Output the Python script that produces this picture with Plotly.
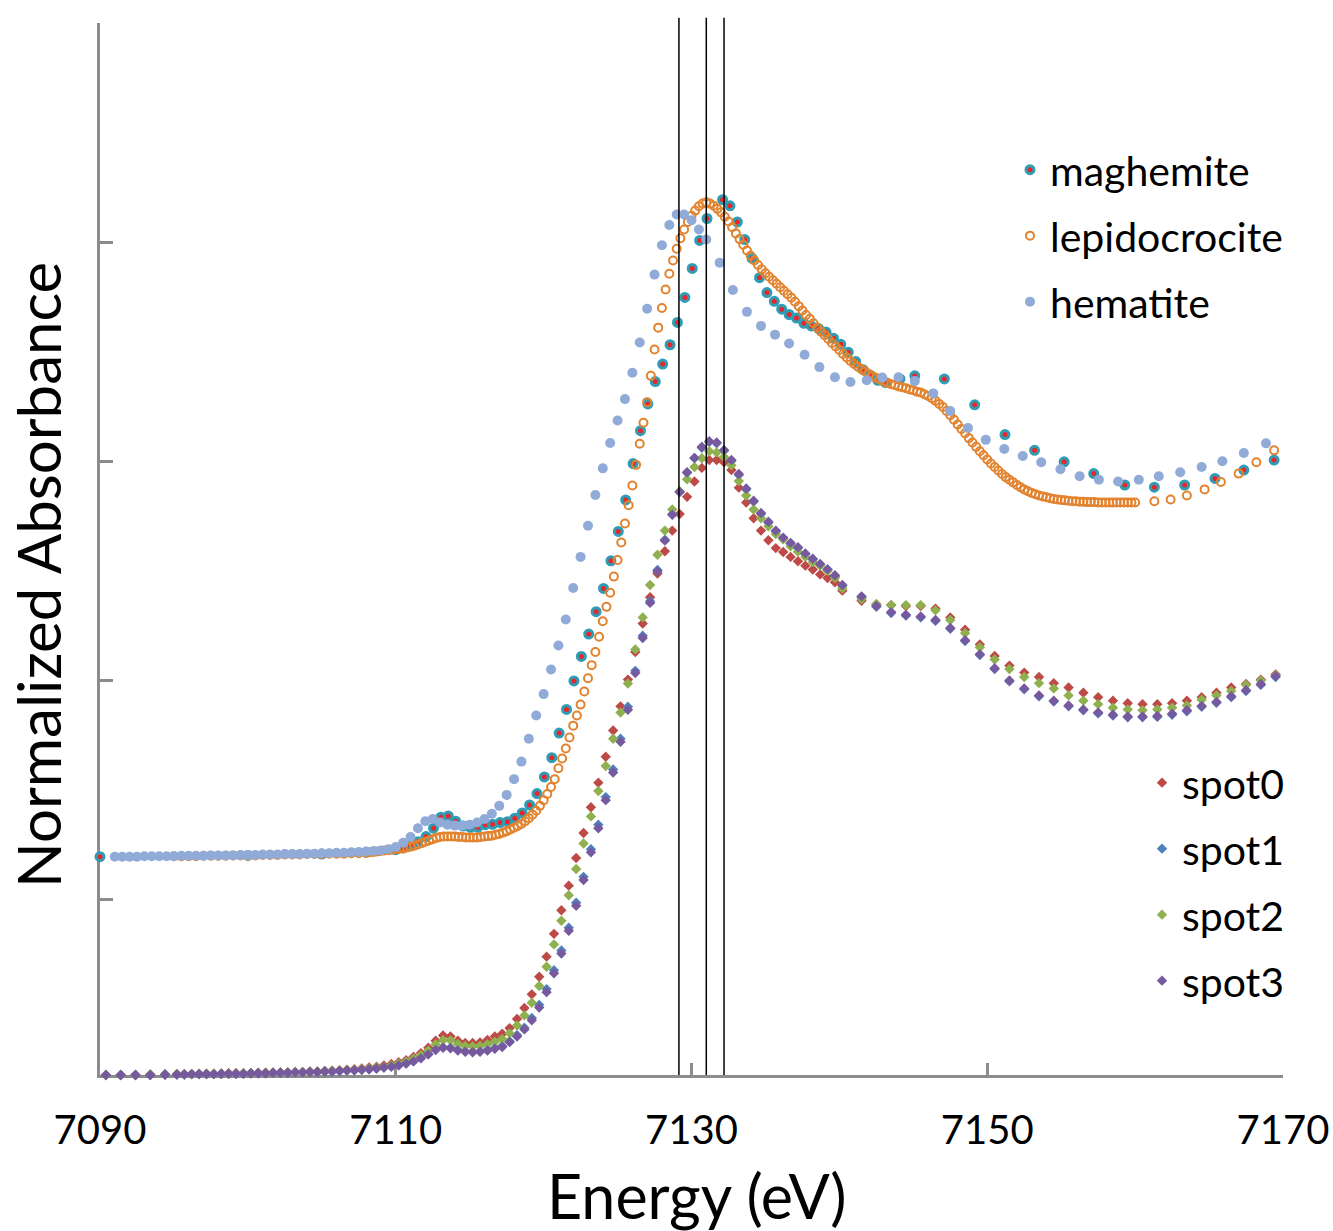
import numpy as np
import plotly.graph_objects as go

# ---------------- data ----------------
# energy grid of the spot spectra (eV)
spot_energy = (list(np.round(np.arange(7090.4, 7094.5, 1.0), 2))
               + list(np.round(np.arange(7095.2, 7140.25, 0.5), 2))
               + list(np.round(np.arange(7141.5, 7169.6, 1.0), 2)))

spot0 = [0.000, 0.000, 0.000, 0.001, 0.001,
         0.002, 0.002, 0.002, 0.003, 0.003, 0.003, 0.003, 0.004, 0.004, 0.004,
         0.004, 0.005, 0.005, 0.005, 0.006, 0.006, 0.007, 0.007, 0.008, 0.008,
         0.009, 0.010, 0.011, 0.012, 0.013, 0.015, 0.017, 0.019, 0.022, 0.025,
         0.029, 0.034, 0.041, 0.050, 0.062, 0.078, 0.090, 0.088, 0.078, 0.073,
         0.073, 0.074, 0.080, 0.088, 0.094, 0.107, 0.128, 0.153, 0.184, 0.224,
         0.270, 0.322, 0.376, 0.432, 0.495, 0.552, 0.611, 0.667, 0.726, 0.786,
         0.841, 0.902, 0.965, 1.030, 1.090, 1.144, 1.195, 1.242, 1.280, 1.319,
         1.354, 1.385, 1.403, 1.403, 1.398, 1.380, 1.340, 1.306, 1.270, 1.242,
         1.220, 1.202, 1.193, 1.182, 1.172, 1.162, 1.153, 1.142, 1.134, 1.124,
         1.105,
         1.082, 1.074, 1.072, 1.070, 1.070, 1.064, 1.044, 1.016, 0.982, 0.956,
         0.934, 0.918, 0.908, 0.894, 0.884, 0.872, 0.862, 0.854, 0.848, 0.846,
         0.846, 0.848, 0.854, 0.862, 0.872, 0.884, 0.892, 0.902, 0.914]

spot1 = [0.000, 0.000, 0.000, 0.000, 0.001,
         0.001, 0.001, 0.002, 0.002, 0.002, 0.002, 0.003, 0.003, 0.003, 0.003,
         0.004, 0.004, 0.004, 0.005, 0.005, 0.005, 0.006, 0.006, 0.007, 0.007,
         0.008, 0.008, 0.009, 0.010, 0.011, 0.012, 0.013, 0.015, 0.017, 0.019,
         0.022, 0.026, 0.032, 0.039, 0.048, 0.058, 0.063, 0.062, 0.057, 0.054,
         0.053, 0.054, 0.057, 0.061, 0.066, 0.077, 0.091, 0.108, 0.130, 0.160,
         0.196, 0.239, 0.284, 0.336, 0.393, 0.452, 0.515, 0.571, 0.634, 0.697,
         0.767, 0.840, 0.922, 1.002, 1.081, 1.152, 1.221, 1.279, 1.330, 1.374,
         1.407, 1.431, 1.444, 1.441, 1.424, 1.401, 1.369, 1.336, 1.308, 1.280,
         1.260, 1.240, 1.224, 1.212, 1.202, 1.188, 1.176, 1.164, 1.152, 1.138,
         1.116,
         1.090, 1.068, 1.054, 1.048, 1.044, 1.036, 1.018, 0.990, 0.958, 0.926,
         0.898, 0.880, 0.864, 0.852, 0.841, 0.832, 0.825, 0.820, 0.816, 0.816,
         0.817, 0.822, 0.830, 0.840, 0.849, 0.862, 0.876, 0.890, 0.908]

spot2 = [0.000, 0.000, 0.000, 0.001, 0.001,
         0.002, 0.002, 0.002, 0.002, 0.003, 0.003, 0.003, 0.003, 0.004, 0.004,
         0.004, 0.004, 0.005, 0.005, 0.005, 0.006, 0.006, 0.007, 0.007, 0.008,
         0.008, 0.009, 0.010, 0.011, 0.012, 0.013, 0.015, 0.017, 0.019, 0.022,
         0.026, 0.031, 0.037, 0.045, 0.056, 0.070, 0.080, 0.079, 0.071, 0.066,
         0.065, 0.066, 0.070, 0.076, 0.082, 0.095, 0.113, 0.136, 0.165, 0.203,
         0.247, 0.298, 0.352, 0.410, 0.470, 0.528, 0.590, 0.648, 0.705, 0.767,
         0.827, 0.893, 0.971, 1.044, 1.118, 1.187, 1.242, 1.290, 1.332, 1.359,
         1.387, 1.407, 1.423, 1.420, 1.410, 1.391, 1.355, 1.322, 1.290, 1.270,
         1.252, 1.234, 1.222, 1.206, 1.194, 1.182, 1.170, 1.162, 1.150, 1.134,
         1.110,
         1.086, 1.074, 1.072, 1.072, 1.072, 1.060, 1.038, 1.008, 0.976, 0.948,
         0.926, 0.908, 0.894, 0.882, 0.866, 0.854, 0.846, 0.838, 0.834, 0.832,
         0.834, 0.838, 0.843, 0.856, 0.866, 0.876, 0.890, 0.900, 0.912]

spot3 = [0.000, 0.000, 0.000, 0.000, 0.001,
         0.001, 0.001, 0.002, 0.002, 0.002, 0.002, 0.003, 0.003, 0.003, 0.003,
         0.004, 0.004, 0.004, 0.005, 0.005, 0.005, 0.006, 0.006, 0.007, 0.007,
         0.008, 0.008, 0.009, 0.010, 0.011, 0.012, 0.013, 0.015, 0.017, 0.019,
         0.022, 0.026, 0.031, 0.038, 0.047, 0.057, 0.062, 0.061, 0.056, 0.053,
         0.052, 0.053, 0.056, 0.060, 0.064, 0.075, 0.088, 0.104, 0.125, 0.154,
         0.189, 0.232, 0.277, 0.329, 0.386, 0.445, 0.508, 0.563, 0.627, 0.690,
         0.760, 0.833, 0.917, 0.997, 1.077, 1.149, 1.219, 1.278, 1.330, 1.375,
         1.408, 1.433, 1.446, 1.443, 1.426, 1.403, 1.371, 1.338, 1.310, 1.282,
         1.262, 1.242, 1.226, 1.214, 1.204, 1.190, 1.178, 1.166, 1.154, 1.140,
         1.118,
         1.092, 1.070, 1.056, 1.050, 1.046, 1.038, 1.020, 0.992, 0.960, 0.928,
         0.900, 0.882, 0.866, 0.854, 0.843, 0.834, 0.827, 0.822, 0.818, 0.818,
         0.819, 0.824, 0.832, 0.842, 0.851, 0.864, 0.878, 0.892, 0.910]

# maghemite reference (offset +0.5)
maghemite_energy = ([7090.0, 7100.0, 7105.0, 7108.0, 7110.0, 7110.5, 7111.0, 7111.5, 7112.05]
                    + list(np.round(np.arange(7112.55, 7131.1, 0.5), 2))
                    + list(np.round(np.arange(7132.1, 7143.15, 0.5), 2))
                    + [7144.1, 7145.1, 7147.1, 7149.15, 7151.2, 7153.2, 7155.2, 7157.2,
                       7159.3, 7161.3, 7163.35, 7165.4, 7167.35, 7169.4])
maghemite = [0.498, 0.501, 0.504, 0.508, 0.514, 0.518, 0.524, 0.532, 0.544,
             0.563, 0.588, 0.591, 0.579, 0.568, 0.565, 0.565, 0.571, 0.572, 0.576,
             0.578, 0.586, 0.598, 0.616, 0.642, 0.680, 0.724, 0.780, 0.834, 0.899,
             0.955, 1.006, 1.057, 1.110, 1.173, 1.240, 1.312, 1.395, 1.470, 1.531,
             1.582, 1.622, 1.666, 1.717, 1.774, 1.840, 1.904, 1.954,
             1.997, 1.983, 1.946, 1.906, 1.863, 1.819, 1.785, 1.765, 1.747, 1.735,
             1.727, 1.715, 1.709, 1.703, 1.695, 1.681, 1.667, 1.649, 1.628, 1.609,
             1.596, 1.585, 1.580,
             1.588, 1.595, 1.588, 1.529, 1.461, 1.425, 1.399, 1.372,
             1.346, 1.341, 1.346, 1.361, 1.380, 1.403]

# lepidocrocite reference (offset +0.5)
lepido_energy = (list(np.round(np.arange(7095.0, 7107.6, 0.5), 2))
                 + list(np.round(np.arange(7108.0, 7160.01, 0.25), 2))
                 + [7161.3, 7162.4, 7163.5, 7164.7, 7165.8, 7167.0, 7168.2, 7169.4])
lepidocrocite = [
    0.499, 0.499, 0.499, 0.499, 0.500, 0.500, 0.500, 0.500, 0.501, 0.501,
    0.501, 0.501, 0.502, 0.502, 0.502, 0.503, 0.503, 0.503, 0.504, 0.504,
    0.504, 0.505, 0.505, 0.505, 0.506, 0.506,
    # 7108.00 - 7119.00
    0.507, 0.508, 0.509, 0.510, 0.511, 0.512, 0.513, 0.514, 0.515, 0.516,
    0.517, 0.519, 0.521, 0.523, 0.526, 0.529, 0.532, 0.535, 0.538, 0.541,
    0.543, 0.544, 0.544, 0.544, 0.544, 0.543, 0.543, 0.542, 0.542, 0.542,
    0.542, 0.543, 0.544, 0.545, 0.546, 0.548, 0.550, 0.553, 0.556, 0.560,
    0.564, 0.568, 0.573, 0.579, 0.586,
    # 7119.25 - 7131.00
    0.594, 0.603, 0.614, 0.627, 0.641, 0.657, 0.675, 0.700, 0.722, 0.745,
    0.770, 0.797, 0.820, 0.845, 0.875, 0.905, 0.935, 0.965, 1.000, 1.035,
    1.068, 1.100, 1.137, 1.175, 1.215, 1.258, 1.300, 1.345, 1.392, 1.440,
    1.488, 1.535, 1.595, 1.655, 1.705, 1.750, 1.792, 1.828, 1.858, 1.885,
    1.909, 1.929, 1.946, 1.960, 1.972, 1.982, 1.988, 1.991,
    # 7131.25 - 7160.00
    1.988, 1.983, 1.976, 1.968, 1.958, 1.947, 1.934, 1.920, 1.907, 1.894,
    1.881, 1.869, 1.858, 1.848, 1.838, 1.829, 1.821, 1.813, 1.805, 1.797,
    1.789, 1.781, 1.773, 1.764, 1.754, 1.744, 1.734, 1.725, 1.715, 1.705,
    1.696, 1.688, 1.679, 1.670, 1.662, 1.654, 1.645, 1.637, 1.629, 1.622,
    1.616, 1.610, 1.605, 1.599, 1.594, 1.590, 1.586, 1.582, 1.579, 1.576,
    1.574, 1.571, 1.569, 1.567, 1.564, 1.562, 1.559, 1.557, 1.553, 1.549,
    1.544, 1.538, 1.531, 1.524, 1.515, 1.505, 1.495, 1.484, 1.474, 1.464,
    1.453, 1.443, 1.433, 1.423, 1.414, 1.404, 1.395, 1.387, 1.379, 1.371,
    1.364, 1.358, 1.352, 1.346, 1.341, 1.336, 1.332, 1.328, 1.325, 1.322,
    1.320, 1.318, 1.316, 1.314, 1.313, 1.312, 1.311, 1.310, 1.309, 1.309,
    1.308, 1.308, 1.307, 1.307, 1.307, 1.306, 1.306, 1.306, 1.306, 1.306,
    1.306, 1.306, 1.306, 1.306, 1.306, 1.306,
    # sparse tail
    1.309, 1.313, 1.322, 1.336, 1.353, 1.372, 1.398, 1.425]

# hematite reference (offset +0.5)
hematite_energy = (list(np.round(np.arange(7091.0, 7131.01, 0.5), 2))
                   + [7131.9, 7132.8, 7133.75, 7134.7, 7135.65, 7136.6, 7137.65, 7138.65,
                      7139.7, 7140.75, 7141.85, 7142.9, 7144.0, 7145.1, 7146.35, 7147.5,
                      7148.7, 7149.9, 7151.15, 7152.4, 7153.65, 7154.95, 7156.25, 7157.55,
                      7158.85, 7160.25, 7161.6, 7163.05, 7164.5, 7165.9, 7167.35, 7168.85])
hematite = [0.498, 0.498, 0.498, 0.498, 0.499, 0.499, 0.499, 0.499, 0.499, 0.500,
            0.500, 0.500, 0.500, 0.501, 0.501, 0.501, 0.501, 0.502, 0.502, 0.502,
            0.503, 0.503, 0.503, 0.504, 0.504, 0.504, 0.505, 0.505, 0.506, 0.506,
            0.507, 0.507, 0.508, 0.509, 0.510, 0.511, 0.512,
            0.515, 0.520, 0.530, 0.543, 0.563, 0.579, 0.584, 0.576, 0.571, 0.569,
            0.569, 0.571, 0.576, 0.584, 0.596, 0.614, 0.639, 0.675, 0.715, 0.767,
            0.820, 0.869, 0.925, 0.980, 1.039, 1.111, 1.182, 1.253, 1.323, 1.384,
            1.442, 1.493, 1.542, 1.602, 1.671, 1.748, 1.826, 1.893, 1.939, 1.963,
            1.963, 1.950, 1.929, 1.906,
            1.853, 1.791, 1.741, 1.709, 1.689, 1.669, 1.643, 1.615,
            1.592, 1.581, 1.585, 1.591, 1.592, 1.583, 1.555, 1.515,
            1.476, 1.449, 1.428, 1.412, 1.398, 1.382, 1.366, 1.358,
            1.354, 1.358, 1.366, 1.375, 1.387, 1.400, 1.419, 1.441]

edge_lines = [7129.15, 7131.0, 7132.2]
x_ticks = [7090, 7110, 7130, 7150, 7170]
y_ticks = [0.4, 0.9, 1.4, 1.9, 2.4]

assert len(spot_energy) == len(spot0) == len(spot1) == len(spot2) == len(spot3)
assert len(maghemite_energy) == len(maghemite), (len(maghemite_energy), len(maghemite))
assert len(lepido_energy) == len(lepidocrocite), (len(lepido_energy), len(lepidocrocite))
assert len(hematite_energy) == len(hematite), (len(hematite_energy), len(hematite))

# ---------------- figure ----------------
FONT = "Lato"
AX = "#8c8c8c"
W, H = 1333, 1231
ML, MR, MT, MB = 100, 50, 23, 156
PW, PH = W - ML - MR, H - MT - MB


def px_to_paper(px, py):
    return (px - ML) / PW, (H - MB - py) / PH


fig = go.Figure()

series = [
    ("maghemite", maghemite_energy, maghemite,
     dict(symbol="circle", size=8, color="#e8262b", line=dict(color="#2f9db3", width=3)), "legend"),
    ("lepidocrocite", lepido_energy, lepidocrocite,
     dict(symbol="circle-open", size=8, color="#e2832f", line=dict(color="#e2832f", width=2)), "legend2"),
    ("hematite", hematite_energy, hematite,
     dict(symbol="circle", size=10, color="#91abd9"), "legend3"),
    ("spot0", spot_energy, spot0, dict(symbol="diamond", size=8, color="#bd4a47"), "legend4"),
    ("spot1", spot_energy, spot1, dict(symbol="diamond", size=8, color="#4f81bd"), "legend5"),
    ("spot2", spot_energy, spot2, dict(symbol="diamond", size=8, color="#8fb04e"), "legend6"),
    ("spot3", spot_energy, spot3, dict(symbol="diamond", size=8, color="#76599e"), "legend7"),
]
for name, xs, ys, mk, lg in series:
    fig.add_trace(go.Scatter(x=xs, y=ys, mode="markers", name=name, marker=mk,
                             cliponaxis=False, legend=lg))

for xv in edge_lines:
    fig.add_shape(type="line", xref="x", yref="paper", x0=xv, x1=xv, y0=0, y1=1.005,
                  line=dict(color="black", width=1.5), layer="above")

# legend placement (one entry per legend so the row spacing matches)
legend_rows = [(1010, 170), (1010, 236), (1010, 302),
               (1142, 783), (1142, 849), (1142, 915), (1142, 981)]
layout_legends = {}
for i, (lx, ly) in enumerate(legend_rows):
    key = "legend" if i == 0 else f"legend{i + 1}"
    xp, yp = px_to_paper(lx, ly)
    layout_legends[key] = dict(x=xp, y=yp, xanchor="left", yanchor="middle",
                               bgcolor="rgba(0,0,0,0)", borderwidth=0,
                               font=dict(family=FONT, size=41, color="black"))

fig.update_layout(
    width=W, height=H,
    margin=dict(l=ML, r=MR, t=MT, b=MB, autoexpand=False),
    paper_bgcolor="white", plot_bgcolor="white",
    showlegend=True,
    **layout_legends,
    xaxis=dict(range=[7090, 7170], tickvals=x_ticks, ticktext=[str(v) for v in x_ticks],
               showgrid=False, zeroline=False, showline=True, linecolor=AX, linewidth=3,
               ticks="inside", ticklen=12, tickwidth=3, tickcolor=AX,
               tickfont=dict(family=FONT, size=40, color="black"),
               ticklabelstandoff=18, layer="below traces", automargin=False),
    yaxis=dict(range=[0, 2.4], tickvals=y_ticks, showticklabels=False,
               showgrid=False, zeroline=False, showline=True, linecolor=AX, linewidth=3,
               ticks="inside", ticklen=13, tickwidth=3, tickcolor=AX,
               layer="below traces", automargin=False),
)

xt = px_to_paper(696, 1195)
yt = px_to_paper(38, 575)
fig.add_annotation(text="Energy (eV)", xref="paper", yref="paper", x=xt[0], y=xt[1],
                   showarrow=False, font=dict(family=FONT, size=61, color="black"),
                   xanchor="center", yanchor="middle")
fig.add_annotation(text="Normalized Absorbance", xref="paper", yref="paper", x=yt[0], y=yt[1],
                   showarrow=False, textangle=-90, font=dict(family=FONT, size=60, color="black"),
                   xanchor="center", yanchor="middle")

fig.write_html("out.html")
